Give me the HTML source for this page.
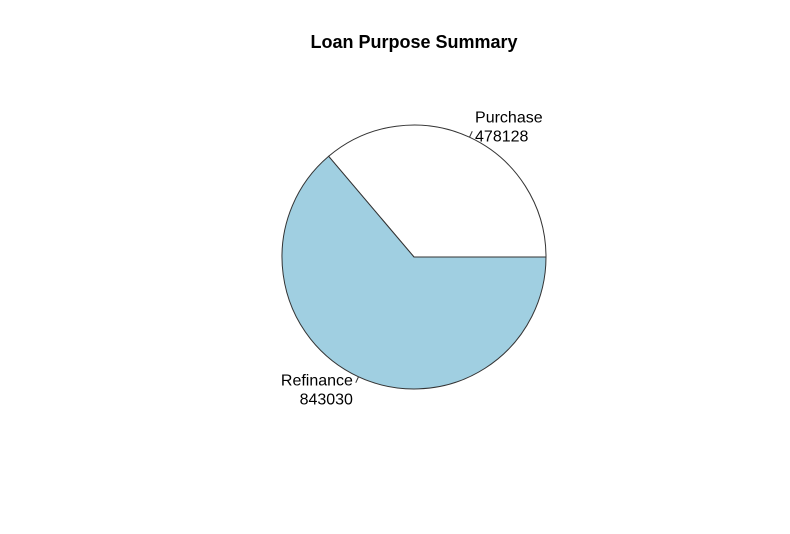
<!DOCTYPE html>
<html><head><meta charset="utf-8"><style>
html,body{margin:0;padding:0;background:#fff;}
svg{display:block;font-family:"Liberation Sans",Arial,sans-serif;}
</style></head><body>
<svg id="chart" width="790" height="534" viewBox="0 0 790 534">
<rect width="790" height="534" fill="#fff"/>
<text x="414" y="48" text-anchor="middle" font-size="18" font-weight="bold">Loan Purpose Summary</text>
<g id="slices"></g>
</svg>
<script>
const categories = ["Purchase", "Refinance"];
const values = [478128, 843030];
const colors = ["#ffffff", "#a0cfe1"];

const cx = 414, cy = 257, r = 132;
const NS = "http://www.w3.org/2000/svg";
const g = document.getElementById("slices");
const total = values.reduce((a, b) => a + b, 0);
function pt(rad, ang) { return [cx + rad * Math.cos(ang), cy - rad * Math.sin(ang)]; }
let start = 0;
values.forEach((v, i) => {
  const sweep = v / total * 2 * Math.PI;
  const end = start + sweep;
  const p0 = pt(r, start), p1 = pt(r, end);
  const large = sweep > Math.PI ? 1 : 0;
  const path = document.createElementNS(NS, "path");
  path.setAttribute("d", `M${cx},${cy} L${p0[0]},${p0[1]} A${r},${r} 0 ${large} 0 ${p1[0]},${p1[1]} Z`);
  path.setAttribute("fill", colors[i]);
  path.setAttribute("stroke", "#333");
  path.setAttribute("stroke-width", "1");
  
  
  g.appendChild(path);
  const mid = (start + end) / 2;
  const a = pt(r, mid), b = pt(r * 1.05, mid), t = pt(r * 1.1, mid);
  const ln = document.createElementNS(NS, "line");
  ln.setAttribute("x1", a[0]); ln.setAttribute("y1", a[1]);
  ln.setAttribute("x2", b[0]); ln.setAttribute("y2", b[1]);
  ln.setAttribute("stroke", "#333");
  
  
  g.appendChild(ln);
  const right = Math.cos(mid) >= 0;
  const tx = document.createElementNS(NS, "text");
  tx.setAttribute("x", t[0]);
  tx.setAttribute("font-size", "16");
  tx.setAttribute("text-anchor", right ? "start" : "end");
  
  
  const l1 = document.createElementNS(NS, "tspan");
  l1.setAttribute("x", t[0]); l1.setAttribute("y", t[1] - 3);
  l1.textContent = categories[i];
  const l2 = document.createElementNS(NS, "tspan");
  l2.setAttribute("x", t[0]); l2.setAttribute("y", t[1] + 16);
  l2.textContent = String(v);
  tx.appendChild(l1); tx.appendChild(l2);
  g.appendChild(tx);
  start = end;
});
</script>
</body></html>
